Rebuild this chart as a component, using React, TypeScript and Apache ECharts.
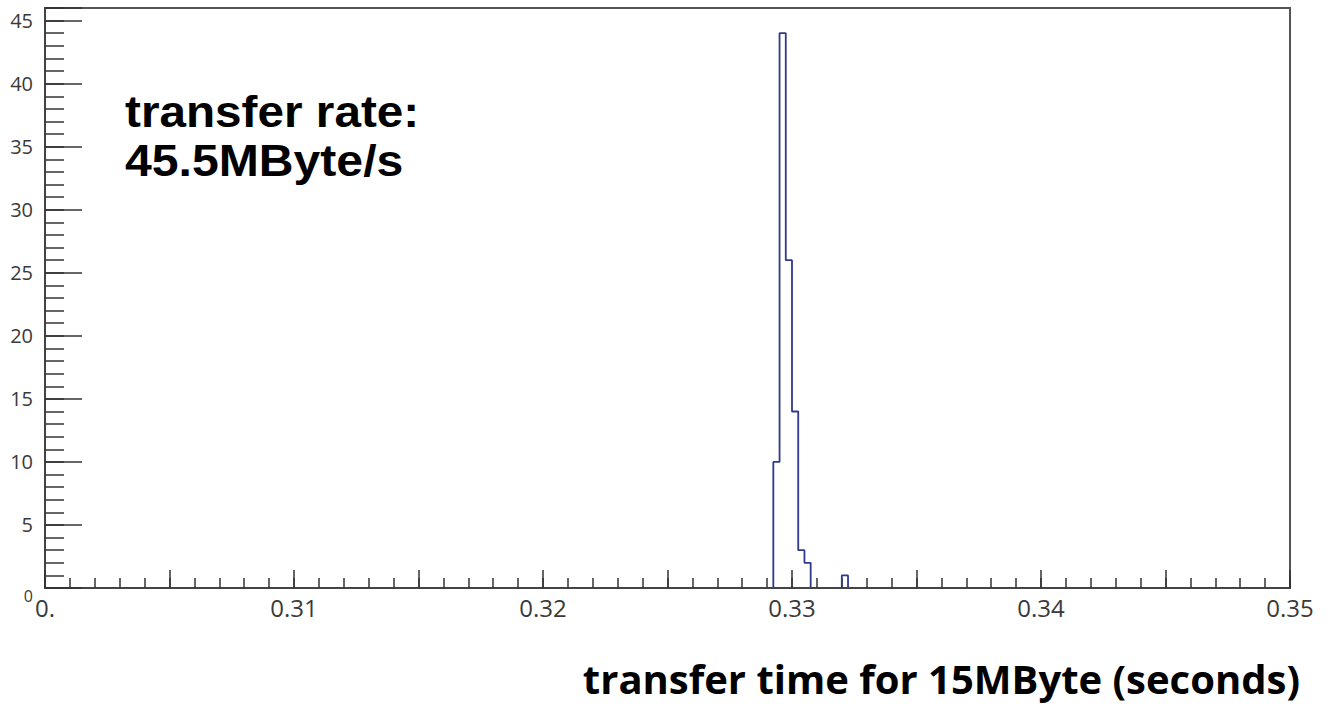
import React, { useEffect, useRef } from "react";
import * as echarts from "echarts";

// ---- data ----
const X_MIN = 0.3;
const X_MAX = 0.35;
const Y_MIN = 0;
const Y_MAX = 46;
const binWidth = 0.00025;
const binLefts = [0.32925, 0.3295, 0.32975, 0.33, 0.33025, 0.3305, 0.332];
const binCounts = [10, 44, 26, 14, 3, 2, 1];
const xLabelValues = [0.3, 0.31, 0.32, 0.33, 0.34, 0.35];
const xLabelTexts = ["0.", "0.31", "0.32", "0.33", "0.34", "0.35"];
const yLabelValues = [0, 5, 10, 15, 20, 25, 30, 35, 40, 45];
const annotationLines = ["transfer rate:", "45.5MByte/s"];
const xTitle = "transfer time for 15MByte (seconds)";

// group contiguous bins into outline polylines
function buildOutlines(): number[][][] {
  const groups: number[][][] = [];
  let cur: number[][] | null = null;
  for (let i = 0; i < binLefts.length; i++) {
    const L = binLefts[i];
    const R = L + binWidth;
    const c = binCounts[i];
    const contiguous =
      i > 0 && Math.abs(binLefts[i - 1] + binWidth - L) < binWidth / 10;
    if (!contiguous || !cur) {
      if (cur) groups.push(cur);
      cur = [[L, 0]];
    }
    cur.push([L, c]);
    cur.push([R, c]);
    const nextContig =
      i < binLefts.length - 1 &&
      Math.abs(R - binLefts[i + 1]) < binWidth / 10;
    if (!nextContig) cur.push([R, 0]);
  }
  if (cur) groups.push(cur);
  return groups;
}

const AXIS_COLOR = "#444";
const TICK_COLOR = "#333";
const LABEL_COLOR = "#3a3a3a";
const LINE_COLOR = "#2f3a8c";

function xLabel(v: number): string {
  for (let i = 0; i < xLabelValues.length; i++) {
    if (Math.abs(v - xLabelValues[i]) < 1e-7) return xLabelTexts[i];
  }
  return "";
}

function yLabel(v: number): string {
  if (!yLabelValues.some((y) => Math.abs(y - v) < 1e-7)) return "";
  if (v === 0) return "{z|0}";
  return String(v);
}

export default function App() {
  const ref = useRef<HTMLDivElement>(null);
  useEffect(() => {
    if (!ref.current) return;
    const chart = echarts.init(ref.current, null, { renderer: "svg" });
    const outlines = buildOutlines();
    const grid = { left: 45, right: 38, top: 8, bottom: 118 };
    chart.setOption({
      animation: false,
      backgroundColor: "#fff",
      grid: {
        ...grid,
        show: true,
        borderColor: "#555",
        borderWidth: 2,
        backgroundColor: "transparent",
      },
      xAxis: [
        {
          type: "value",
          min: X_MIN,
          max: X_MAX,
          interval: 0.005,
          position: "bottom",
          axisLine: { show: true, lineStyle: { color: AXIS_COLOR, width: 2 } },
          axisTick: {
            show: true,
            inside: true,
            length: 18,
            lineStyle: { color: TICK_COLOR, width: 1.5 },
          },
          axisLabel: {
            formatter: xLabel,
            fontSize: 24,
            color: LABEL_COLOR,
            fontFamily: "Open Sans",
            margin: 7,
            showMinLabel: true,
            showMaxLabel: true,
            hideOverlap: false,
          },
          splitLine: { show: false },
        },
        {
          type: "value",
          min: X_MIN,
          max: X_MAX,
          interval: 0.001,
          position: "bottom",
          axisLine: { show: false },
          axisTick: {
            show: true,
            inside: true,
            length: 10,
            lineStyle: { color: TICK_COLOR, width: 1.5 },
          },
          axisLabel: { show: false },
          splitLine: { show: false },
        },
      ],
      yAxis: [
        {
          type: "value",
          min: Y_MIN,
          max: Y_MAX,
          interval: 5,
          position: "left",
          axisLine: { show: true, lineStyle: { color: AXIS_COLOR, width: 2 } },
          axisTick: {
            show: true,
            inside: true,
            length: 37,
            lineStyle: { color: TICK_COLOR, width: 1.5 },
          },
          axisLabel: {
            formatter: yLabel,
            fontSize: 20,
            color: LABEL_COLOR,
            fontFamily: "Open Sans",
            margin: 12,
            showMinLabel: true,
            rich: {
              z: {
                fontSize: 16,
                color: LABEL_COLOR,
                fontFamily: "Open Sans",
                padding: [16, 0, 0, 0],
              },
            },
          },
          splitLine: { show: false },
        },
        {
          type: "value",
          min: Y_MIN,
          max: Y_MAX,
          interval: 1,
          position: "left",
          axisLine: { show: false },
          axisTick: {
            show: true,
            inside: true,
            length: 19,
            lineStyle: { color: TICK_COLOR, width: 1.5 },
          },
          axisLabel: { show: false },
          splitLine: { show: false },
        },
      ],
      series: outlines.map((pts) => ({
        type: "line",
        xAxisIndex: 0,
        yAxisIndex: 0,
        data: pts,
        showSymbol: false,
        symbol: "none",
        lineStyle: { color: LINE_COLOR, width: 1.8 },
        z: 3,
      })),
      graphic: [
        {
          type: "text",
          x: 125,
          y: 111,
          scaleX: 1.06,
          style: {
            text: annotationLines[0],
            font: 'bold 45px "Liberation Sans"',
            fill: "#000",
            verticalAlign: "middle",
          },
        },
        {
          type: "text",
          x: 125,
          y: 161,
          scaleX: 1.07,
          style: {
            text: annotationLines[1],
            font: 'bold 45px "Liberation Sans"',
            fill: "#000",
            verticalAlign: "middle",
          },
        },
        {
          type: "text",
          x: 1300,
          y: 678,
          style: {
            text: xTitle,
            font: 'bold 40px "Open Sans"',
            fill: "#000",
            align: "right",
            verticalAlign: "middle",
          },
        },
      ],
    });
    return () => chart.dispose();
  }, []);
  return (
    <div
      ref={ref}
      style={{ position: "fixed", left: 0, top: 0, width: 1328, height: 706 }}
    />
  );
}
